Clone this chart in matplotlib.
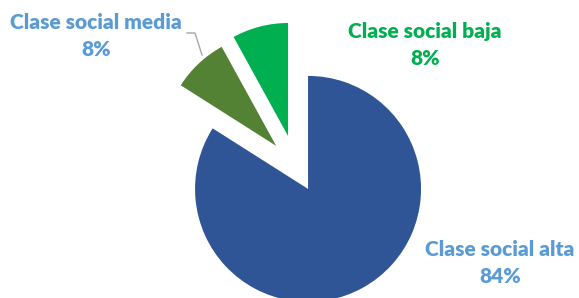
import matplotlib.pyplot as plt

categories = ['Clase social alta', 'Clase social media', 'Clase social baja']
shares = [84, 8, 8]
colors = ['#2F5597', '#548235', '#00B050']
label_colors = ['#5B9BD5', '#5B9BD5', '#00B050']
explode = [25, 29, 32]  # in pixel units, axes is in pixel space

H = 298
fig = plt.figure(figsize=(5.79, 2.98), dpi=100)
ax = fig.add_axes([0, 0, 1, 1])

ax.pie(shares, colors=colors, explode=explode, startangle=90,
       counterclock=False, center=(296, H - 167), radius=113,
       wedgeprops=dict(linewidth=0))
ax.set_xlim(0, 579)
ax.set_ylim(0, H)
ax.set_aspect('equal')
ax.axis('off')

label_pos = [(500, 263), (96, 36), (425, 45)]
for name, val, col, (x, y) in zip(categories, shares, label_colors, label_pos):
    ax.text(x, H - y, f'{name}\n{val}%', color=col, ha='center', va='center',
            fontsize=15, fontweight='heavy', family='Lato', linespacing=1.5)

# leader line for the middle slice
ax.plot([187, 195, 202], [H - 33, H - 33, H - 55], color='#A6A6A6', lw=1)

fig.savefig('out.png', dpi=100)
